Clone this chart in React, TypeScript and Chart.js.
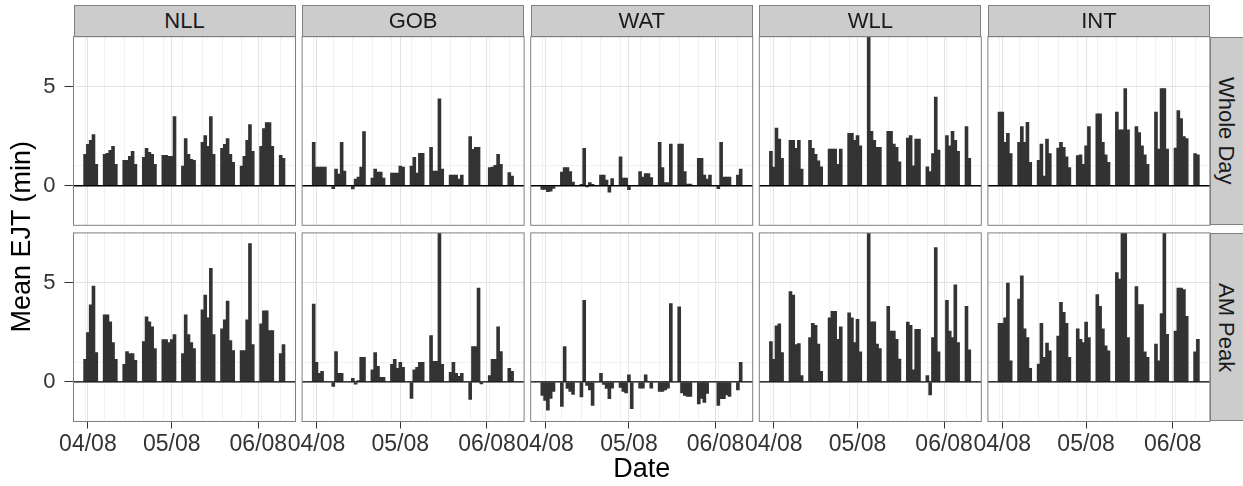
import React, { useEffect, useRef } from "react";
import { Chart, registerables } from "chart.js";

Chart.register(...registerables);

// ---------------- data ----------------
const sites = ["NLL", "GOB", "WAT", "WLL", "INT"];
const periods = ["Whole Day", "AM Peak"];
const xTickLabels = ["04/08", "05/08", "06/08"];
const yTickLabels = ["0", "5"];
const xTitle = "Date";
const yTitle = "Mean EJT (min)";

const dates = [
  "04/07", "04/08", "04/09", "04/10", "04/11",
  "04/14", "04/15", "04/16", "04/17", "04/18",
  "04/21", "04/22", "04/23", "04/24", "04/25",
  "04/28", "04/29", "04/30", "05/01", "05/02",
  "05/05", "05/06", "05/07", "05/08", "05/09",
  "05/12", "05/13", "05/14", "05/15", "05/16",
  "05/19", "05/20", "05/21", "05/22", "05/23",
  "05/26", "05/27", "05/28", "05/29", "05/30",
  "06/02", "06/03", "06/04", "06/05", "06/06",
  "06/09", "06/10", "06/11", "06/12", "06/13",
  "06/16", "06/17",
];

const nllWholeDay = [
  1.6, 2.1, 2.3, 2.6, 1.1,
  1.6, 1.65, 1.8, 2.0, 1.1,
  1.3, 1.3, 1.5, 1.75, 1.1,
  1.45, 1.9, 1.7, 1.6, 1.1,
  1.55, 1.55, 1.5, 1.5, 3.5,
  1.0, 2.4, 1.6, 1.35, 1.3,
  2.2, 2.55, 2.0, 3.5, 1.6,
  1.9, 2.1, 2.4, 1.6, 1.2,
  1.0, 1.5, 2.3, 3.1, 1.75,
  2.0, 2.9, 3.2, 3.2, 2.0,
  1.55, 1.4,
];
const gobWholeDay = [
  2.2, 0.95, 0.95, 0.95, 0.95,
  -0.17, 0.85, 0.6, 2.2, 0.75,
  -0.18, 0.35, 0.45, 0.95, 2.75,
  0.4, 0.85, 0.7, 0.7, 0.4,
  0.65, 0.65, 0.65, 1.0, 0.95,
  1.0, 1.45, 0.65, 1.65, 1.65,
  1.95, 0.75, 0.75, 4.4, 0.85,
  0.55, 0.55, 0.55, 0.35, 0.55,
  2.5, 1.85, 1.95, 1.95, null,
  0.93, 0.95, 1.05, 1.6, 1.1,
  0.68, 0.5,
];
const watWholeDay = [
  -0.2, -0.2, -0.32, -0.3, -0.15,
  0.7, 0.93, 0.93, 0.73, 0.2,
  0.08, 1.9, -0.08, 0.17, 0.08,
  0.55, 0.55, 0.3, -0.35, 0.38,
  1.47, 0.4, 0.4, -0.22, null,
  0.73, 0.45, 0.63, 0.63, 0.42,
  2.2, 0.93, 0.17, 0.17, 2.12,
  2.12, 2.12, 0.73, 0.1, 0.1,
  1.4, 1.4, 0.55, 0.35, 0.55,
  -0.17, 2.2, 0.45, 0.45, 0.45,
  0.55, 0.85,
];
const wllWholeDay = [
  1.75, 0.95, 2.93, 2.37, 1.4,
  2.3, 2.3, 1.9, 2.3, 0.85,
  2.3, 1.9, 1.6, 1.27, 0.97,
  1.86, 1.86, 1.86, 1.1, 1.86,
  2.66, 2.66, 2.3, 2.54, 2.03,
  7.8, 2.76, 2.3, 1.95, 1.95,
  2.76, 2.76, 2.12, 1.95, 1.22,
  2.42, 2.54, 1.02, 2.37, 2.37,
  0.97, 0.73, 1.64, 4.49, 1.81,
  2.54, 2.03, 2.76, 2.3, 1.75,
  3.0, 1.4,
];
const intWholeDay = [
  3.73, 3.73, 2.2, 2.66, 1.64,
  2.2, 3.0, 2.2, 3.22, 1.2,
  1.3, 2.12, 0.5, 2.37, 1.64,
  1.92, 2.2, 1.95, 1.47, 0.93,
  1.53, 1.58, 1.1, 2.03, 3.0,
  3.64, 3.64, 2.2, 1.58, 1.2,
  3.73, 2.83, 2.83, 4.92, 2.83,
  3.0, 2.7, 2.03, 1.58, 1.1,
  3.73, 1.86, 4.92, 4.92, 1.86,
  1.92, 3.81, 3.4, 2.5, 2.4,
  1.64, 1.58,
];

const nllAmPeak = [
  1.15, 2.5, 3.9, 4.85, 1.5,
  3.4, 3.4, 3.05, 2.0, 1.15,
  0.9, 1.55, 1.45, 1.45, 1.1,
  2.05, 3.3, 3.05, 2.8, 1.7,
  2.15, 2.15, 2.0, 2.15, 2.4,
  1.45, 3.4, 2.4, 2.0, 1.7,
  3.65, 4.4, 3.25, 5.75, 2.4,
  2.7, 3.15, 4.1, 2.1, 1.6,
  1.6, 1.6, 3.15, 7.0, 1.9,
  2.95, 3.6, 3.6, 2.6, 2.6,
  1.45, 1.9,
];
const gobAmPeak = [
  3.95, 1.0, 0.45, 0.55, null,
  -0.25, 1.55, 0.45, 0.45, null,
  0.2, -0.13, 0.08, 1.25, 1.25,
  0.63, 1.5, 0.8, 0.25, 0.25,
  0.9, 1.15, 0.7, 1.0, 0.75,
  -0.85, 0.63, 0.75, 1.0, 1.0,
  2.35, 1.05, 1.05, 7.8, 0.9,
  0.5, 1.0, 0.45, 0.3, 0.45,
  -0.9, 1.8, 1.8, 4.75, -0.12,
  0.33, 1.15, 1.15, 2.8, 1.55,
  0.7, 0.55,
];
const watAmPeak = [
  -0.7, -0.95, -1.45, -0.85, -0.5,
  -1.25, 1.8, -0.35, -0.5, -0.65,
  -0.78, 4.13, -0.2, -0.42, -1.2,
  0.45, -0.15, -0.35, -0.87, -0.33,
  -0.3, -0.5, -0.58, 0.37, -1.37,
  -0.33, -0.33, 0.37, 0.03, -0.33,
  -0.5, -0.5, -0.42, -0.33, 3.97,
  3.8, -0.58, -0.7, -0.75, -0.75,
  -1.13, -0.85, -1.05, -0.6, null,
  -1.2, -0.87, -0.87, -0.67, -0.75,
  -0.42, 1.0,
];
const wllAmPeak = [
  2.05, 1.15, 2.85, 2.95, 1.5,
  4.58, 4.4, 1.9, 1.95, 0.33,
  2.25, 2.97, 2.87, 1.92, 0.55,
  3.25, 3.58, 3.58, 2.17, 2.8,
  3.5, 3.25, 2.0, 3.17, 1.53,
  7.8, 3.05, 3.05, 1.92, 1.7,
  3.83, 2.58, 2.58, 2.17, 1.17,
  3.03, 2.87, 0.63, 2.67, 2.67,
  0.33, -0.67, 2.25, 6.8, 1.53,
  4.13, 2.58, 2.25, 4.92, 2.0,
  3.83, 1.63,
];
const intAmPeak = [
  2.97, 2.97, 3.25, 5.0, 1.08,
  4.2, 5.37, 2.7, 2.25, 0.7,
  0.92, 2.97, 1.25, 1.97, 1.58,
  2.33, 4.03, 3.53, 2.97, 1.25,
  2.7, 2.17, 2.0, 3.03, 2.25,
  4.42, 3.83, 2.7, 1.83, 1.58,
  5.53, 5.2, 7.8, 7.8, 2.25,
  4.83, 3.92, 3.92, 1.53, 1.25,
  1.92, 1.08, 3.47, 7.8, 2.42,
  2.58, 4.75, 4.75, 4.67, 3.33,
  1.53, 2.17,
];

const seriesByRow: (number | null)[][][] = [
  [nllWholeDay, gobWholeDay, watWholeDay, wllWholeDay, intWholeDay],
  [nllAmPeak, gobAmPeak, watAmPeak, wllAmPeak, intAmPeak],
];

// ---------------- layout ----------------
const FONT = '"Liberation Sans", Arial, Helvetica, sans-serif';
const PAGE_W = 1243;
const PAGE_H = 486;
const PANEL_LEFTS = [73.5, 302.1, 530.7, 759.3, 987.9];
const PANEL_W = 222;
const ROW_TOPS = [36.7, 232.9];
const PANEL_H = 188.6;
const STRIP_TOP = 4.7;
const X_AXIS_H = 34;
const X_MIN = -5.15;
const X_MAX = 74.3;
const Y_MIN = -2.0;
const Y_MAX = 7.52;

function dayOffset(md: string): number {
  const [m, d] = md.split("/").map(Number);
  return Math.round((Date.UTC(2014, m - 1, d) - Date.UTC(2014, 3, 8)) / 86400000);
}

const panelFrame = {
  id: "panelFrame",
  afterDatasetsDraw(chart: any) {
    const { ctx, chartArea, scales } = chart;
    const y0 = scales.y.getPixelForValue(0);
    ctx.save();
    ctx.strokeStyle = "#000000";
    ctx.lineWidth = 1.4;
    ctx.beginPath();
    ctx.moveTo(chartArea.left, y0);
    ctx.lineTo(chartArea.right, y0);
    ctx.stroke();
    ctx.restore();
  },
  afterDraw(chart: any) {
    const { ctx, chartArea } = chart;
    ctx.save();
    ctx.strokeStyle = "#808080";
    ctx.lineWidth = 1;
    ctx.strokeRect(chartArea.left, chartArea.top, chartArea.right - chartArea.left, chartArea.bottom - chartArea.top);
    ctx.restore();
  },
};

function Panel({ row, col }: { row: number; col: number }) {
  const ref = useRef<HTMLCanvasElement>(null);
  useEffect(() => {
    const values = seriesByRow[row][col];
    const data = dates
      .map((d, i) => ({ x: dayOffset(d), y: values[i] }))
      .filter((p) => p.y !== null && p.y !== undefined);
    const left = PANEL_LEFTS[col];
    const top = ROW_TOPS[row];
    const bottom = top + PANEL_H;
    const isLeft = col === 0;
    const isBottom = row === 1;

    const majorX = xTickLabels.map(dayOffset);
    const minorX: number[] = [];
    for (let v = dayOffset(dates[0]); v < X_MAX; v += 7) {
      if (!majorX.includes(v)) minorX.push(v);
    }
    const xTicks = [...majorX, ...minorX].sort((a, b) => a - b);
    const majorY = yTickLabels.map(Number);
    const yTicks = [...majorY, 1].sort((a, b) => a - b);

    const chart = new Chart(ref.current as HTMLCanvasElement, {
      type: "bar",
      data: {
        datasets: [
          {
            data: data as any,
            backgroundColor: "#333333",
            borderWidth: 0,
            barPercentage: 1,
            categoryPercentage: 1.3,
          },
        ],
      },
      options: {
        animation: false,
        responsive: false,
        devicePixelRatio: 1,
        layout: {
          padding: {
            left: isLeft ? 0 : left,
            right: PAGE_W - left - PANEL_W,
            top: top,
            bottom: isBottom ? PAGE_H - bottom - X_AXIS_H : PAGE_H - bottom,
          },
        },
        plugins: {
          legend: { display: false },
          tooltip: { enabled: false },
          title: { display: false },
        },
        scales: {
          x: {
            type: "linear",
            min: X_MIN,
            max: X_MAX,
            bounds: "data",
            offset: false,
            afterBuildTicks: (s: any) => {
              s.ticks = xTicks.map((v) => ({ value: v }));
            },
            afterFit: (s: any) => {
              s.height = isBottom ? X_AXIS_H : 0;
            },
            ticks: {
              display: isBottom,
              autoSkip: false,
              maxRotation: 0,
              minRotation: 0,
              padding: 2,
              color: "#333333",
              font: { family: FONT, size: 23 },
              callback: (v: any) => {
                const i = majorX.indexOf(Number(v));
                return i >= 0 ? xTickLabels[i] : "";
              },
            },
            grid: {
              offset: false,
              drawTicks: isBottom,
              tickLength: 7,
              lineWidth: 1,
              color: (ctx: any) => (majorX.includes(ctx.tick?.value) ? "#e3e3e3" : "#f1f1f1"),
              tickColor: (ctx: any) => (majorX.includes(ctx.tick?.value) ? "#333333" : "rgba(0,0,0,0)"),
            },
            border: { display: false },
          },
          y: {
            type: "linear",
            min: Y_MIN,
            max: Y_MAX,
            bounds: "data",
            afterBuildTicks: (s: any) => {
              s.ticks = yTicks.map((v) => ({ value: v }));
            },
            afterFit: (s: any) => {
              s.width = isLeft ? left : 0;
            },
            ticks: {
              display: isLeft,
              autoSkip: false,
              padding: 9,
              color: "#333333",
              font: { family: FONT, size: 22 },
              callback: (v: any) => {
                const i = majorY.indexOf(Number(v));
                return i >= 0 ? yTickLabels[i] : "";
              },
            },
            grid: {
              drawTicks: isLeft,
              tickLength: 9,
              lineWidth: 1,
              color: (ctx: any) => (majorY.includes(ctx.tick?.value) ? "#e3e3e3" : "#f1f1f1"),
              tickColor: (ctx: any) => (majorY.includes(ctx.tick?.value) ? "#333333" : "rgba(0,0,0,0)"),
            },
            border: { display: false },
          },
        },
      },
      plugins: [panelFrame],
    } as any);
    return () => chart.destroy();
  }, [row, col]);

  return (
    <canvas
      ref={ref}
      width={PAGE_W}
      height={PAGE_H}
      style={{ position: "absolute", left: 0, top: 0, width: PAGE_W, height: PAGE_H }}
    />
  );
}

export default function App() {
  const stripStyle: React.CSSProperties = {
    position: "absolute",
    boxSizing: "border-box",
    background: "#cccccc",
    border: "1px solid #808080",
    color: "#1a1a1a",
    fontFamily: FONT,
    fontSize: 22,
    display: "flex",
    alignItems: "center",
    justifyContent: "center",
    zIndex: 2,
  };
  return (
    <div
      style={{
        position: "absolute",
        left: 0,
        top: 0,
        width: PAGE_W,
        height: PAGE_H,
        background: "#ffffff",
        overflow: "hidden",
      }}
    >
      {periods.map((_, r) =>
        sites.map((__, c) => <Panel key={`${r}-${c}`} row={r} col={c} />)
      )}
      {sites.map((s, c) => (
        <div
          key={s}
          style={{
            ...stripStyle,
            left: PANEL_LEFTS[c],
            top: STRIP_TOP,
            width: PANEL_W,
            height: ROW_TOPS[0] - STRIP_TOP + 0.5,
          }}
        >
          {s}
        </div>
      ))}
      {periods.map((p, r) => (
        <div
          key={p}
          style={{
            ...stripStyle,
            left: PANEL_LEFTS[4] + PANEL_W + 0.5,
            top: ROW_TOPS[r],
            width: 36,
            height: PANEL_H,
          }}
        >
          <span style={{ writingMode: "vertical-rl" as any, lineHeight: 1, marginRight: 4 }}>{p}</span>
        </div>
      ))}
      <div
        style={{
          position: "absolute",
          left: 0,
          width: PANEL_LEFTS[4] + PANEL_W + PANEL_LEFTS[0],
          top: 455,
          textAlign: "center",
          fontFamily: FONT,
          fontSize: 27,
          lineHeight: "27px",
          color: "#000000",
          zIndex: 2,
        }}
      >
        {xTitle}
      </div>
      <div
        style={{
          position: "absolute",
          left: 8,
          top: 44,
          width: 27,
          height: 385,
          display: "flex",
          alignItems: "center",
          justifyContent: "center",
          zIndex: 2,
        }}
      >
        <span
          style={{
            writingMode: "vertical-rl" as any,
            transform: "rotate(180deg)",
            fontFamily: FONT,
            fontSize: 27,
            lineHeight: "27px",
            color: "#000000",
            whiteSpace: "nowrap",
          }}
        >
          {yTitle}
        </span>
      </div>
    </div>
  );
}
